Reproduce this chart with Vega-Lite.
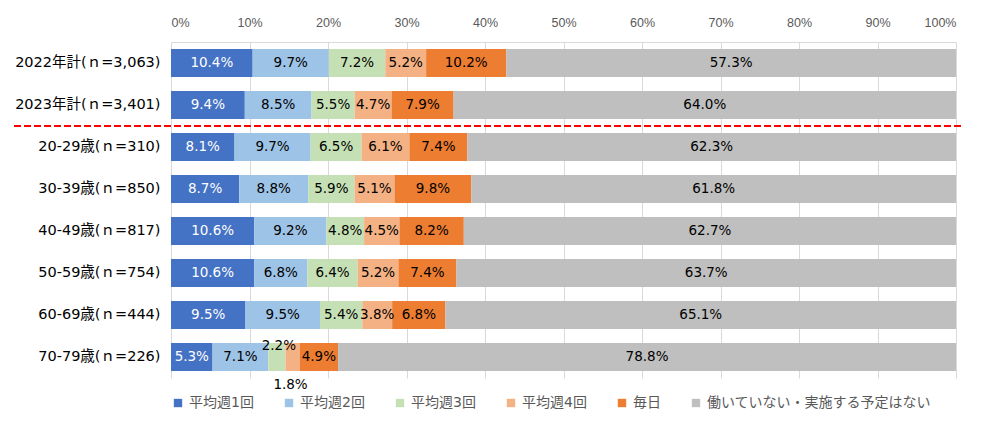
{
  "$schema": "https://vega.github.io/schema/vega-lite/v6.json",
  "width": 785,
  "height": 336,
  "autosize": {"type": "none"},
  "padding": {"left": 171, "top": 42, "right": 44, "bottom": 54},
  "background": "white",
  "config": {
    "view": {"stroke": null},
    "font": "DejaVu Sans, Noto Sans CJK JP, sans-serif"
  },
  "data": {
    "values": [
      {"row": "2022年計(ｎ=3,063)", "cat": "平均週1回", "k": 1, "v": 0.104},
      {"row": "2022年計(ｎ=3,063)", "cat": "平均週2回", "k": 2, "v": 0.097},
      {"row": "2022年計(ｎ=3,063)", "cat": "平均週3回", "k": 3, "v": 0.072},
      {"row": "2022年計(ｎ=3,063)", "cat": "平均週4回", "k": 4, "v": 0.052},
      {"row": "2022年計(ｎ=3,063)", "cat": "毎日", "k": 5, "v": 0.102},
      {"row": "2022年計(ｎ=3,063)", "cat": "働いていない・実施する予定はない", "k": 6, "v": 0.573},
      {"row": "2023年計(ｎ=3,401)", "cat": "平均週1回", "k": 1, "v": 0.094},
      {"row": "2023年計(ｎ=3,401)", "cat": "平均週2回", "k": 2, "v": 0.085},
      {"row": "2023年計(ｎ=3,401)", "cat": "平均週3回", "k": 3, "v": 0.055},
      {"row": "2023年計(ｎ=3,401)", "cat": "平均週4回", "k": 4, "v": 0.047},
      {"row": "2023年計(ｎ=3,401)", "cat": "毎日", "k": 5, "v": 0.079},
      {"row": "2023年計(ｎ=3,401)", "cat": "働いていない・実施する予定はない", "k": 6, "v": 0.640},
      {"row": "20-29歳(ｎ=310)", "cat": "平均週1回", "k": 1, "v": 0.081},
      {"row": "20-29歳(ｎ=310)", "cat": "平均週2回", "k": 2, "v": 0.097},
      {"row": "20-29歳(ｎ=310)", "cat": "平均週3回", "k": 3, "v": 0.065},
      {"row": "20-29歳(ｎ=310)", "cat": "平均週4回", "k": 4, "v": 0.061},
      {"row": "20-29歳(ｎ=310)", "cat": "毎日", "k": 5, "v": 0.074},
      {"row": "20-29歳(ｎ=310)", "cat": "働いていない・実施する予定はない", "k": 6, "v": 0.623},
      {"row": "30-39歳(ｎ=850)", "cat": "平均週1回", "k": 1, "v": 0.087},
      {"row": "30-39歳(ｎ=850)", "cat": "平均週2回", "k": 2, "v": 0.088},
      {"row": "30-39歳(ｎ=850)", "cat": "平均週3回", "k": 3, "v": 0.059},
      {"row": "30-39歳(ｎ=850)", "cat": "平均週4回", "k": 4, "v": 0.051},
      {"row": "30-39歳(ｎ=850)", "cat": "毎日", "k": 5, "v": 0.098},
      {"row": "30-39歳(ｎ=850)", "cat": "働いていない・実施する予定はない", "k": 6, "v": 0.618},
      {"row": "40-49歳(ｎ=817)", "cat": "平均週1回", "k": 1, "v": 0.106},
      {"row": "40-49歳(ｎ=817)", "cat": "平均週2回", "k": 2, "v": 0.092},
      {"row": "40-49歳(ｎ=817)", "cat": "平均週3回", "k": 3, "v": 0.048},
      {"row": "40-49歳(ｎ=817)", "cat": "平均週4回", "k": 4, "v": 0.045},
      {"row": "40-49歳(ｎ=817)", "cat": "毎日", "k": 5, "v": 0.082},
      {"row": "40-49歳(ｎ=817)", "cat": "働いていない・実施する予定はない", "k": 6, "v": 0.627},
      {"row": "50-59歳(ｎ=754)", "cat": "平均週1回", "k": 1, "v": 0.106},
      {"row": "50-59歳(ｎ=754)", "cat": "平均週2回", "k": 2, "v": 0.068},
      {"row": "50-59歳(ｎ=754)", "cat": "平均週3回", "k": 3, "v": 0.064},
      {"row": "50-59歳(ｎ=754)", "cat": "平均週4回", "k": 4, "v": 0.052},
      {"row": "50-59歳(ｎ=754)", "cat": "毎日", "k": 5, "v": 0.074},
      {"row": "50-59歳(ｎ=754)", "cat": "働いていない・実施する予定はない", "k": 6, "v": 0.637},
      {"row": "60-69歳(ｎ=444)", "cat": "平均週1回", "k": 1, "v": 0.095},
      {"row": "60-69歳(ｎ=444)", "cat": "平均週2回", "k": 2, "v": 0.095},
      {"row": "60-69歳(ｎ=444)", "cat": "平均週3回", "k": 3, "v": 0.054},
      {"row": "60-69歳(ｎ=444)", "cat": "平均週4回", "k": 4, "v": 0.038},
      {"row": "60-69歳(ｎ=444)", "cat": "毎日", "k": 5, "v": 0.068},
      {"row": "60-69歳(ｎ=444)", "cat": "働いていない・実施する予定はない", "k": 6, "v": 0.651},
      {"row": "70-79歳(ｎ=226)", "cat": "平均週1回", "k": 1, "v": 0.053},
      {"row": "70-79歳(ｎ=226)", "cat": "平均週2回", "k": 2, "v": 0.071},
      {"row": "70-79歳(ｎ=226)", "cat": "平均週3回", "k": 3, "v": 0.022},
      {"row": "70-79歳(ｎ=226)", "cat": "平均週4回", "k": 4, "v": 0.018},
      {"row": "70-79歳(ｎ=226)", "cat": "毎日", "k": 5, "v": 0.049},
      {"row": "70-79歳(ｎ=226)", "cat": "働いていない・実施する予定はない", "k": 6, "v": 0.788}
    ]
  },
  "encoding": {
    "y": {
      "field": "row",
      "type": "nominal",
      "sort": null,
      "title": null,
      "scale": {"paddingInner": 0.3333, "paddingOuter": 0.1667},
      "axis": {
        "ticks": false,
        "domain": false,
        "labelPadding": 11,
        "labelFontSize": 14.5,
        "labelColor": "#000000",
        "labelFont": "DejaVu Sans, Noto Sans CJK JP"
      }
    }
  },
  "layer": [
    {
      "mark": {"type": "bar"},
      "encoding": {
        "x": {
          "field": "v",
          "type": "quantitative",
          "stack": "normalize",
          "title": null,
          "scale": {"domain": [0, 1]},
          "axis": {
            "orient": "top",
            "format": ".0%",
            "values": [0, 0.1, 0.2, 0.3, 0.4, 0.5, 0.6, 0.7, 0.8, 0.9, 1],
            "ticks": false,
            "domain": true,
            "domainColor": "#D9D9D9",
            "gridColor": "#D9D9D9",
            "labelPadding": 13,
            "labelFontSize": 12.5,
            "labelFont": "Liberation Sans",
            "labelColor": "#595959"
          }
        },
        "color": {
          "field": "cat",
          "type": "nominal",
          "title": null,
          "scale": {
            "domain": ["平均週1回", "平均週2回", "平均週3回", "平均週4回", "毎日", "働いていない・実施する予定はない"],
            "range": ["#4472C4", "#9DC3E6", "#C5E0B4", "#F4B183", "#ED7D31", "#BFBFBF"]
          },
          "legend": {
            "orient": "bottom",
            "direction": "horizontal",
            "symbolType": "square",
            "symbolSize": 70,
            "symbolStrokeWidth": 0,
            "labelFontSize": 14,
            "labelColor": "#595959",
            "labelLimit": 400,
            "columnPadding": 28,
            "labelOffset": 4,
            "offset": 18
          }
        },
        "order": {"field": "k", "type": "quantitative"}
      }
    },
    {
      "mark": {"type": "text", "fontSize": 13.5, "baseline": "middle"},
      "encoding": {
        "x": {"field": "v", "type": "quantitative", "stack": "normalize", "bandPosition": 0.5},
        "text": {
          "condition": {"test": "datum.row == '70-79歳(ｎ=226)' && (datum.k == 3 || datum.k == 4)", "value": ""},
          "field": "v", "type": "quantitative", "format": ".1%"
        },
        "detail": {"field": "cat"},
        "order": {"field": "k", "type": "quantitative"},
        "color": {"condition": {"test": "datum.k == 1", "value": "white"}, "value": "#000000"}
      }
    },
    {
      "mark": {"type": "text", "fontSize": 13.5, "baseline": "middle", "dy": -11, "dx": 2, "color": "#000000"},
      "encoding": {
        "x": {"field": "v", "type": "quantitative", "stack": "normalize", "bandPosition": 0.5},
        "text": {
          "condition": {"test": "!(datum.row == '70-79歳(ｎ=226)' && datum.k == 3)", "value": ""},
          "field": "v", "type": "quantitative", "format": ".1%"
        },
        "detail": {"field": "cat"},
        "order": {"field": "k", "type": "quantitative"}
      }
    },
    {
      "mark": {"type": "text", "fontSize": 13.5, "baseline": "middle", "dy": 28, "dx": -2, "color": "#000000"},
      "encoding": {
        "x": {"field": "v", "type": "quantitative", "stack": "normalize", "bandPosition": 0.5},
        "text": {
          "condition": {"test": "!(datum.row == '70-79歳(ｎ=226)' && datum.k == 4)", "value": ""},
          "field": "v", "type": "quantitative", "format": ".1%"
        },
        "detail": {"field": "cat"},
        "order": {"field": "k", "type": "quantitative"}
      }
    },
    {
      "mark": {"type": "rule", "color": "#FF0000", "strokeWidth": 1.5, "strokeDash": [7, 3]},
      "encoding": {
        "x": {"datum": -0.2, "type": "quantitative"},
        "x2": {"datum": 1.006},
        "y": {"datum": "20-29歳(ｎ=310)", "type": "nominal", "bandPosition": -0.25}
      }
    }
  ]
}
